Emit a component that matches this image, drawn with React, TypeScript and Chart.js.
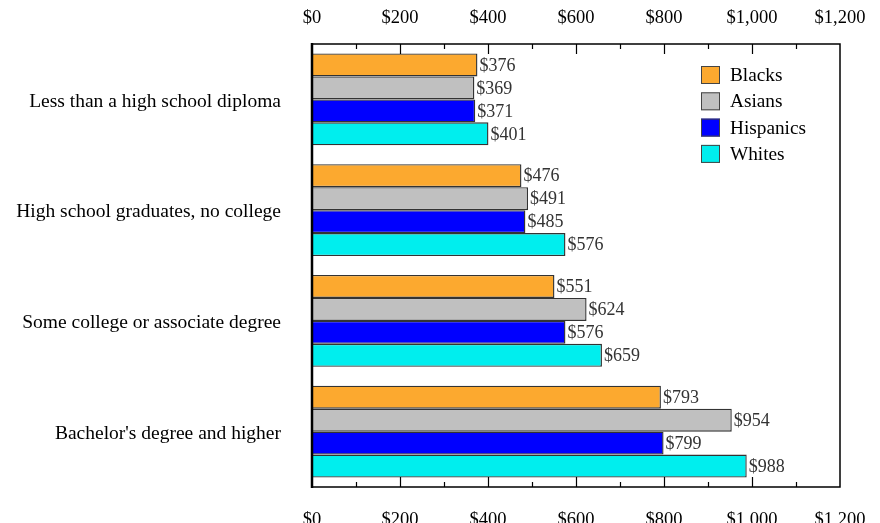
import React, { useEffect, useRef } from 'react';
import { Chart, registerables } from 'chart.js';

Chart.register(...registerables);

const categories = [
  'Less than a high school diploma',
  'High school graduates, no college',
  'Some college or associate degree',
  "Bachelor's degree and higher",
];
const seriesNames = ['Blacks', 'Asians', 'Hispanics', 'Whites'];
const blacks = [376, 476, 551, 793];
const asians = [369, 491, 624, 954];
const hispanics = [371, 485, 576, 799];
const whites = [401, 576, 659, 988];
const seriesColors = ['#FCA92F', '#C0C0C0', '#0000FF', '#00EEEE'];
const xMin = 0;
const xMax = 1200;
const xStep = 200;
const minorStep = 100;

const FONT = "'Liberation Serif', 'Times New Roman', serif";

const money = (v: number) => '$' + Number(v).toLocaleString('en-US');

const zeroPad = (s: any) => {
  s.paddingTop = 0;
  s.paddingBottom = 0;
  s.paddingLeft = 0;
  s.paddingRight = 0;
};

const boxPlugin = {
  id: 'boxPlugin',
  afterDatasetsDraw(chart: any) {
    const { ctx, chartArea } = chart;
    const { left, right, top, bottom } = chartArea;
    const xs = chart.scales.x;
    ctx.save();
    ctx.strokeStyle = '#000';
    ctx.lineWidth = 1.5;
    ctx.beginPath();
    ctx.moveTo(left, top);
    ctx.lineTo(right, top);
    ctx.lineTo(right, bottom);
    ctx.lineTo(left, bottom);
    ctx.stroke();
    ctx.lineWidth = 2.5;
    ctx.beginPath();
    ctx.moveTo(left, top - 1);
    ctx.lineTo(left, bottom + 1);
    ctx.stroke();
    ctx.lineWidth = 1.2;
    for (let v = xMin + minorStep; v < xMax; v += minorStep) {
      const px = Math.round(xs.getPixelForValue(v)) + 0.5;
      const major = v % xStep === 0;
      const len = major ? 10 : 5;
      ctx.beginPath();
      ctx.moveTo(px, top);
      ctx.lineTo(px, top + len);
      ctx.moveTo(px, bottom);
      ctx.lineTo(px, bottom - len);
      ctx.stroke();
    }
    ctx.restore();
  },
};

const valueLabelPlugin = {
  id: 'valueLabelPlugin',
  afterDatasetsDraw(chart: any) {
    const { ctx } = chart;
    ctx.save();
    ctx.font = `18px ${FONT}`;
    ctx.fillStyle = '#333';
    ctx.textAlign = 'left';
    ctx.textBaseline = 'middle';
    chart.data.datasets.forEach((ds: any, i: number) => {
      const meta = chart.getDatasetMeta(i);
      meta.data.forEach((el: any, j: number) => {
        ctx.fillText(money(ds.data[j]), el.x + 2, el.y + 1);
      });
    });
    ctx.restore();
  },
};

const legendPlugin = {
  id: 'customLegend',
  afterDraw(chart: any) {
    const { ctx, chartArea } = chart;
    ctx.save();
    ctx.font = `19.3px ${FONT}`;
    ctx.textAlign = 'left';
    ctx.textBaseline = 'middle';
    const x0 = chartArea.right - 139;
    const y0 = chartArea.top + 31;
    chart.data.datasets.forEach((ds: any, i: number) => {
      const cy = y0 + i * 26.3;
      ctx.fillStyle = ds.backgroundColor;
      ctx.fillRect(x0, cy - 9, 19, 18);
      ctx.strokeStyle = '#444';
      ctx.lineWidth = 1;
      ctx.strokeRect(x0 + 0.5, cy - 8.5, 18, 17);
      ctx.fillStyle = '#000';
      ctx.fillText(ds.label, x0 + 29, cy + 1);
    });
    ctx.restore();
  },
};

export default function App() {
  const ref = useRef<HTMLCanvasElement | null>(null);
  useEffect(() => {
    if (!ref.current) return;
    const seriesData = [blacks, asians, hispanics, whites];
    const tickFont = { family: FONT, size: 18.5 };
    const xTicks = (padding: number) => ({
      stepSize: xStep,
      color: '#000',
      font: tickFont,
      padding,
      maxRotation: 0,
      autoSkip: false,
      callback: (v: any) => money(v),
    });
    const chart = new Chart(ref.current, {
      type: 'bar',
      data: {
        labels: categories,
        datasets: seriesNames.map((name, i) => ({
          label: name,
          data: seriesData[i],
          backgroundColor: seriesColors[i],
          borderColor: '#333',
          borderWidth: 1.4,
          borderSkipped: 'start',
          categoryPercentage: 0.83,
          barPercentage: 1.0,
          xAxisID: 'x',
        })),
      },
      options: {
        indexAxis: 'y',
        animation: false,
        responsive: false,
        devicePixelRatio: 1,
        layout: { padding: { left: 0, right: 40, top: 0, bottom: 0 } },
        plugins: { legend: { display: false }, tooltip: { enabled: false } },
        scales: {
          x: {
            position: 'bottom',
            min: xMin,
            max: xMax,
            grid: { display: false, drawTicks: false },
            border: { display: false },
            ticks: xTicks(22),
            afterFit: (s: any) => { s.height = 36; zeroPad(s); },
          },
          x2: {
            position: 'top',
            min: xMin,
            max: xMax,
            grid: { display: false, drawTicks: false },
            border: { display: false },
            ticks: xTicks(15),
            afterFit: (s: any) => { s.height = 44; zeroPad(s); },
          },
          y: {
            position: 'left',
            grid: { display: false, drawTicks: false },
            border: { display: false },
            ticks: { color: '#000', font: { family: FONT, size: 19.5 }, padding: 31, labelOffset: 2 },
            afterFit: (s: any) => { s.width = 312; zeroPad(s); },
          },
        },
      } as any,
      plugins: [boxPlugin, valueLabelPlugin, legendPlugin],
    });
    return () => chart.destroy();
  }, []);
  return (
    <div style={{ position: 'absolute', left: 0, top: 0, width: 880, height: 523, background: '#fff' }}>
      <canvas ref={ref} width={880} height={523} style={{ width: 880, height: 523, display: 'block' }} />
    </div>
  );
}
